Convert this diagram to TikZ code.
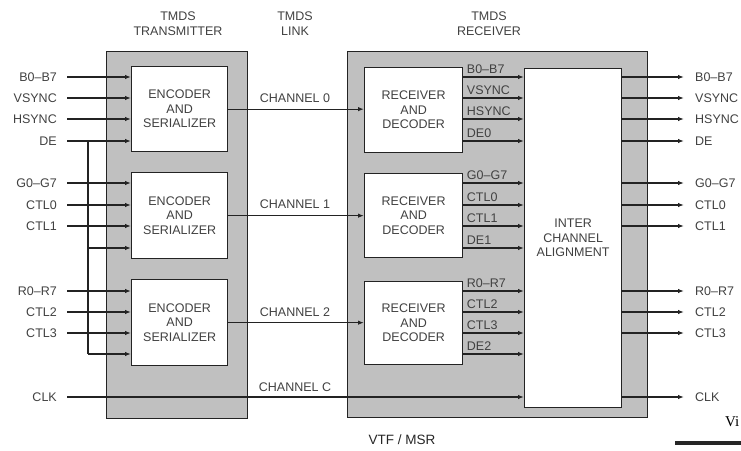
\documentclass[tikz,border=0pt]{standalone}
\usepackage{fontspec}
\setmainfont{Liberation Sans}
\newfontfamily\serifvi{Liberation Serif}
\usetikzlibrary{arrows.meta,calc}
\definecolor{panel}{RGB}{192,192,192}
\definecolor{edge}{RGB}{35,35,35}
\definecolor{txt}{RGB}{65,65,65}
\begin{document}
\begin{tikzpicture}[x=1pt,y=-1pt,
  font=\fontsize{12.5}{14.5}\selectfont,
  panelbox/.style={draw=edge,fill=panel,line width=1.3pt,inner sep=0pt,anchor=north west},
  blockbox/.style={draw=edge,fill=white,line width=1.3pt,inner sep=0pt,anchor=north west,align=center,text=txt},
  lbl/.style={text=txt,inner sep=0pt,text height=9pt,text depth=0pt},
  inlbl/.style={lbl,anchor=east},
  outlbl/.style={lbl,anchor=west},
  ilbl/.style={text=txt,inner sep=0pt,anchor=base west,xshift=3pt,yshift=3.5pt},
  sig/.style={draw=edge,line width=1.3pt,-{Latex[length=6pt,width=4.5pt]}},
  wire/.style={draw=edge,line width=1.3pt}]
\useasboundingbox (0,0) rectangle (741,450);

% headers
\node[text=txt,align=center] (hTX) at (178,23.5) {TMDS\\TRANSMITTER};
\node[text=txt,align=center] (hLK) at (295,23.5) {TMDS\\LINK};
\node[text=txt,align=center] (hRX) at (489,23.5) {TMDS\\RECEIVER};

% panels
\node[panelbox,minimum width=141pt,minimum height=367pt] (tx) at (106,51) {};
\node[panelbox,minimum width=300pt,minimum height=366pt] (rx) at (347,51) {};

% encoders
\node[blockbox,minimum width=96pt,minimum height=85pt] (enc0) at (131,66) {ENCODER\\AND\\SERIALIZER};
\node[blockbox,minimum width=96pt,minimum height=86pt] (enc1) at (131,172) {ENCODER\\AND\\SERIALIZER};
\node[blockbox,minimum width=96pt,minimum height=86pt] (enc2) at (131,279) {ENCODER\\AND\\SERIALIZER};

% decoders
\node[blockbox,minimum width=98pt,minimum height=85pt] (dec0) at (364,67) {RECEIVER\\AND\\DECODER};
\node[blockbox,minimum width=98pt,minimum height=84pt] (dec1) at (364,173) {RECEIVER\\AND\\DECODER};
\node[blockbox,minimum width=98pt,minimum height=83pt] (dec2) at (364,281) {RECEIVER\\AND\\DECODER};

% alignment
\node[blockbox,minimum width=97pt,minimum height=339pt] (align) at (524,68) {INTER\\CHANNEL\\ALIGNMENT};

% input labels
\node[inlbl] (inB)  at (57,77)  {B0--B7};
\node[inlbl] (inV)  at (57,98)  {VSYNC};
\node[inlbl] (inH)  at (57,119) {HSYNC};
\node[inlbl] (inDE) at (57,141) {DE};
\node[inlbl] (inG)  at (57,183) {G0--G7};
\node[inlbl] (inC0) at (57,205) {CTL0};
\node[inlbl] (inC1) at (57,226) {CTL1};
\node[inlbl] (inR)  at (57,291) {R0--R7};
\node[inlbl] (inC2) at (57,312) {CTL2};
\node[inlbl] (inC3) at (57,333) {CTL3};
\node[inlbl] (inCLK) at (57,397) {CLK};
\coordinate (deJ) at (88,141);
\coordinate (de1) at (88,248);
\coordinate (de2) at (88,354);

% inputs to encoders
\foreach \n/\e in {inB/enc0,inV/enc0,inH/enc0,inDE/enc0,inG/enc1,inC0/enc1,inC1/enc1,inR/enc2,inC2/enc2,inC3/enc2}
  \draw[sig] ($(\n.east)+(10,0)$) -- (\e.west |- \n.east);
\draw[wire] (deJ) -- (de2);
\draw[sig] (de1) -- (enc1.west |- de1);
\draw[sig] (de2) -- (enc2.west |- de2);

% channels
\draw[sig] (enc0.east) -- (dec0.west |- enc0.east);
\draw[sig] (enc1.east) -- (dec1.west |- enc1.east);
\draw[sig] (enc2.east) -- (dec2.west |- enc2.east);
\draw[sig] ($(inCLK.east)+(10,0)$) -- (align.west |- inCLK.east);
\node[lbl] (ch0) at (295,98)  {CHANNEL 0};
\node[lbl] (ch1) at (295,204) {CHANNEL 1};
\node[lbl] (ch2) at (295,312) {CHANNEL 2};
\node[lbl] (chC) at (295,387) {CHANNEL C};

% decoder to alignment
\draw[sig] (dec0.east |- inB)  -- (align.west |- inB)  node[pos=0,ilbl] {B0--B7};
\draw[sig] (dec0.east |- inV)  -- (align.west |- inV)  node[pos=0,ilbl] {VSYNC};
\draw[sig] (dec0.east |- inH)  -- (align.west |- inH)  node[pos=0,ilbl] {HSYNC};
\draw[sig] (dec0.east |- inDE) -- (align.west |- inDE) node[pos=0,ilbl] {DE0};
\draw[sig] (dec1.east |- inG)  -- (align.west |- inG)  node[pos=0,ilbl] {G0--G7};
\draw[sig] (dec1.east |- inC0) -- (align.west |- inC0) node[pos=0,ilbl] {CTL0};
\draw[sig] (dec1.east |- inC1) -- (align.west |- inC1) node[pos=0,ilbl] {CTL1};
\draw[sig] (dec1.east |- de1)  -- (align.west |- de1)  node[pos=0,ilbl] {DE1};
\draw[sig] (dec2.east |- inR)  -- (align.west |- inR)  node[pos=0,ilbl] {R0--R7};
\draw[sig] (dec2.east |- inC2) -- (align.west |- inC2) node[pos=0,ilbl] {CTL2};
\draw[sig] (dec2.east |- inC3) -- (align.west |- inC3) node[pos=0,ilbl] {CTL3};
\draw[sig] (dec2.east |- de2)  -- (align.west |- de2)  node[pos=0,ilbl] {DE2};

% outputs
\node[outlbl] (oB)  at (695,77)  {B0--B7};
\node[outlbl] (oV)  at (695,98)  {VSYNC};
\node[outlbl] (oH)  at (695,119) {HSYNC};
\node[outlbl] (oDE) at (695,141) {DE};
\node[outlbl] (oG)  at (695,183) {G0--G7};
\node[outlbl] (oC0) at (695,205) {CTL0};
\node[outlbl] (oC1) at (695,226) {CTL1};
\node[outlbl] (oR)  at (695,291) {R0--R7};
\node[outlbl] (oC2) at (695,312) {CTL2};
\node[outlbl] (oC3) at (695,333) {CTL3};
\node[outlbl] (oCLK) at (695,397) {CLK};
\foreach \n in {oB,oV,oH,oDE,oG,oC0,oC1,oR,oC2,oC3,oCLK}
  \draw[sig] (align.east |- \n.west) -- ($(\n.west)+(-11,0)$);

% footer
\node[text=black!85,font=\fontsize{13.5}{16}\selectfont] (vtf) at (402,440) {VTF / MSR};
\node[anchor=west,inner sep=0pt,font=\serifvi\fontsize{15}{18}\selectfont] (vi) at (725,422) {Vi};
\coordinate (barL) at (675,443);
\coordinate (barR) at (741,443);
\draw[black!85,line width=4pt] (barL) -- (barR);
\end{tikzpicture}
\end{document}
